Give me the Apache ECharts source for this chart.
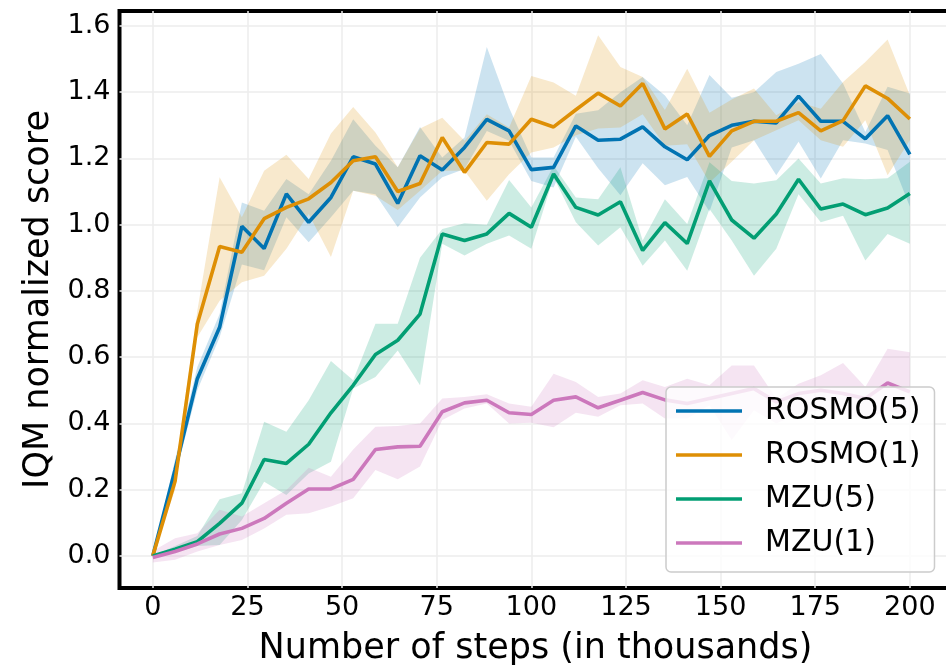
<!DOCTYPE html>
<html><head><meta charset="utf-8">
<script src="https://cdn.jsdelivr.net/npm/echarts@6/dist/echarts.min.js"></script>
<style>html,body{margin:0;padding:0;background:#fff}#c{width:946px;height:666px}</style>
</head><body><div id="c"></div>
<script>
const steps = [0,5.88,11.76,17.65,23.53,29.41,35.29,41.18,47.06,52.94,58.82,64.71,70.59,76.47,82.35,88.24,94.12,100,105.88,111.76,117.65,123.53,129.41,135.29,141.18,147.06,152.94,158.82,164.71,170.59,176.47,182.35,188.24,194.12,200];

const rosmo5   = [0.00,0.26,0.535,0.69,0.995,0.928,1.093,1.007,1.082,1.205,1.183,1.064,1.208,1.165,1.233,1.318,1.283,1.166,1.173,1.298,1.255,1.258,1.295,1.235,1.196,1.269,1.30,1.312,1.307,1.388,1.312,1.312,1.259,1.329,1.212];
const rosmo5Lo = [0.00,0.24,0.50,0.66,0.88,0.862,1.022,0.947,1.022,1.102,1.092,0.992,1.082,1.143,1.168,1.283,1.253,1.132,1.112,1.265,1.17,1.089,1.185,1.119,1.144,1.04,1.233,1.255,1.149,1.25,1.139,1.255,1.245,1.225,1.054];
const rosmo5Hi = [0.00,0.29,0.57,0.73,1.067,1.042,1.138,1.092,1.193,1.318,1.238,1.173,1.295,1.203,1.263,1.536,1.353,1.203,1.203,1.335,1.345,1.40,1.446,1.39,1.30,1.452,1.383,1.40,1.461,1.486,1.515,1.426,1.28,1.416,1.396];

const rosmo1   = [0.00,0.225,0.70,0.934,0.917,1.018,1.052,1.078,1.127,1.193,1.205,1.10,1.124,1.263,1.158,1.248,1.243,1.318,1.295,1.347,1.397,1.358,1.426,1.289,1.334,1.206,1.283,1.312,1.312,1.338,1.283,1.314,1.419,1.381,1.319];
const rosmo1Lo = [0.00,0.20,0.66,0.77,0.826,0.846,0.927,1.032,0.902,1.102,1.087,1.044,1.102,1.163,1.163,1.072,1.152,1.218,1.233,1.27,1.29,1.293,1.333,1.238,1.243,1.127,1.19,1.255,1.285,1.315,1.255,1.235,1.315,1.149,1.255];
const rosmo1Hi = [0.00,0.25,0.74,1.143,1.022,1.163,1.211,1.138,1.275,1.355,1.278,1.173,1.29,1.323,1.253,1.333,1.293,1.449,1.429,1.389,1.572,1.476,1.446,1.346,1.471,1.338,1.378,1.411,1.33,1.37,1.35,1.431,1.491,1.559,1.391];

const mzu5   = [0.00,0.02,0.043,0.098,0.159,0.291,0.279,0.337,0.432,0.515,0.608,0.651,0.73,0.972,0.952,0.972,1.034,0.992,1.153,1.052,1.029,1.069,0.922,1.006,0.943,1.132,1.014,0.959,1.032,1.137,1.047,1.062,1.030,1.050,1.094];
const mzu5Lo = [0.00,0.01,0.03,0.033,0.108,0.224,0.184,0.249,0.284,0.505,0.540,0.620,0.515,0.942,0.907,0.942,0.967,0.927,1.143,1.007,0.937,0.992,0.876,0.952,0.861,1.047,0.952,0.846,0.927,1.092,1.007,1.027,0.892,0.972,0.942];
const mzu5Hi = [0.00,0.03,0.06,0.171,0.189,0.405,0.375,0.470,0.588,0.530,0.701,0.701,0.90,0.987,1.004,1.0,1.135,1.052,1.178,1.082,1.077,1.173,0.952,1.077,1.002,1.188,1.132,1.124,1.134,1.20,1.124,1.14,1.137,1.14,1.19];

const mzu1   = [-0.005,0.013,0.036,0.066,0.083,0.113,0.159,0.202,0.202,0.231,0.321,0.329,0.331,0.435,0.462,0.470,0.432,0.427,0.470,0.480,0.447,0.470,0.493,0.471,0.460,0.475,0.490,0.505,0.465,0.49,0.50,0.49,0.475,0.522,0.495];
const mzu1Lo = [-0.02,-0.012,0.013,0.033,0.048,0.083,0.124,0.129,0.149,0.174,0.259,0.231,0.27,0.410,0.445,0.460,0.400,0.402,0.388,0.432,0.420,0.455,0.460,0.415,0.415,0.455,0.35,0.44,0.40,0.43,0.44,0.43,0.41,0.44,0.42];
const mzu1Hi = [0.015,0.053,0.068,0.139,0.119,0.159,0.199,0.266,0.239,0.321,0.390,0.392,0.400,0.475,0.480,0.488,0.460,0.450,0.550,0.525,0.480,0.490,0.530,0.510,0.535,0.515,0.575,0.575,0.475,0.52,0.545,0.582,0.51,0.625,0.615];

const xTicks = [0,25,50,75,100,125,150,175,200];
const yTicks = [0,0.2,0.4,0.6,0.8,1.0,1.2,1.4,1.6];

const FONT = 'DejaVu Sans';
const defs = [
  {name:'ROSMO(5)', color:'#0173b2', mean:rosmo5, lo:rosmo5Lo, hi:rosmo5Hi},
  {name:'ROSMO(1)', color:'#de8f05', mean:rosmo1, lo:rosmo1Lo, hi:rosmo1Hi},
  {name:'MZU(5)',   color:'#029e73', mean:mzu5,   lo:mzu5Lo,   hi:mzu5Hi},
  {name:'MZU(1)',   color:'#cc78bc', mean:mzu1,   lo:mzu1Lo,   hi:mzu1Hi}
];
const pairs = ys => steps.map((x,i)=>[x, ys[i]]);
const bandRows = (lo,hi) => steps.map((x,i)=>[x, lo[i], hi[i]]);

function bandRender(color){
  return function(params, api){
    if (params.dataIndexInside !== 0) return null;
    const n = params.dataInsideLength;
    const up = [], dn = [];
    for (let i=0;i<n;i++){
      const x = api.value(0, i);
      up.push(api.coord([x, api.value(2, i)]));
      dn.push(api.coord([x, api.value(1, i)]));
    }
    return {type:'polygon', shape:{points: up.concat(dn.reverse())},
      style:{fill:color, opacity:0.2, stroke:null}};
  };
}

const series = [];
defs.forEach((d,k)=>{
  series.push({type:'custom', name:'_band'+k, data:bandRows(d.lo,d.hi), renderItem:bandRender(d.color),
    encode:{x:0, y:[1,2]}, silent:true, z:1, clip:true, animation:false});
});
defs.forEach(d=>{
  series.push({type:'line', name:d.name, data:pairs(d.mean), symbol:'none', color:d.color,
    lineStyle:{color:d.color, width:3.6}, itemStyle:{color:d.color}, z:3, animation:false});
});

const chart = echarts.init(document.getElementById('c'), null, {renderer:'canvas'});
chart.setOption({
  animation:false,
  backgroundColor:'#fff',
  grid:{left:119.5, top:11, width:832, height:577, show:true, borderColor:'#000', borderWidth:4,
    backgroundColor:'transparent', containLabel:false, outerBoundsMode:'none'},
  xAxis:{type:'value', min:-8.8, max:211,
    axisLine:{show:false}, axisTick:{show:false, customValues:xTicks},
    axisLabel:{customValues:xTicks, fontSize:27, color:'#000', fontFamily:FONT, margin:6},
    splitLine:{show:true, lineStyle:{color:'#ececec', width:1.5}},
    name:'Number of steps (in thousands)', nameLocation:'middle', nameGap:43,
    nameTextStyle:{fontSize:35, color:'#000', fontFamily:FONT}},
  yAxis:{type:'value', min:-0.097, max:1.645,
    axisLine:{show:false}, axisTick:{show:false, customValues:yTicks},
    axisLabel:{customValues:yTicks, fontSize:27, color:'#000', fontFamily:FONT, margin:9, formatter:v=>v.toFixed(1)},
    splitLine:{show:true, lineStyle:{color:'#ececec', width:1.5}},
    name:'IQM normalized score', nameLocation:'middle', nameGap:56,
    nameTextStyle:{fontSize:35, color:'#000', fontFamily:FONT}},
  legend:{data:defs.map(d=>d.name), orient:'vertical', left:666, top:387,
    padding:[9,14,14,10], itemWidth:66, itemHeight:3.5, itemGap:14, icon:'rect',
    backgroundColor:'rgba(255,255,255,0.8)', borderColor:'#cccccc', borderWidth:1.5, borderRadius:5,
    textStyle:{fontSize:30, lineHeight:30, color:'#000', fontFamily:FONT, padding:[0,0,0,18]}, z:10},
  series:series
});
</script></body></html>
